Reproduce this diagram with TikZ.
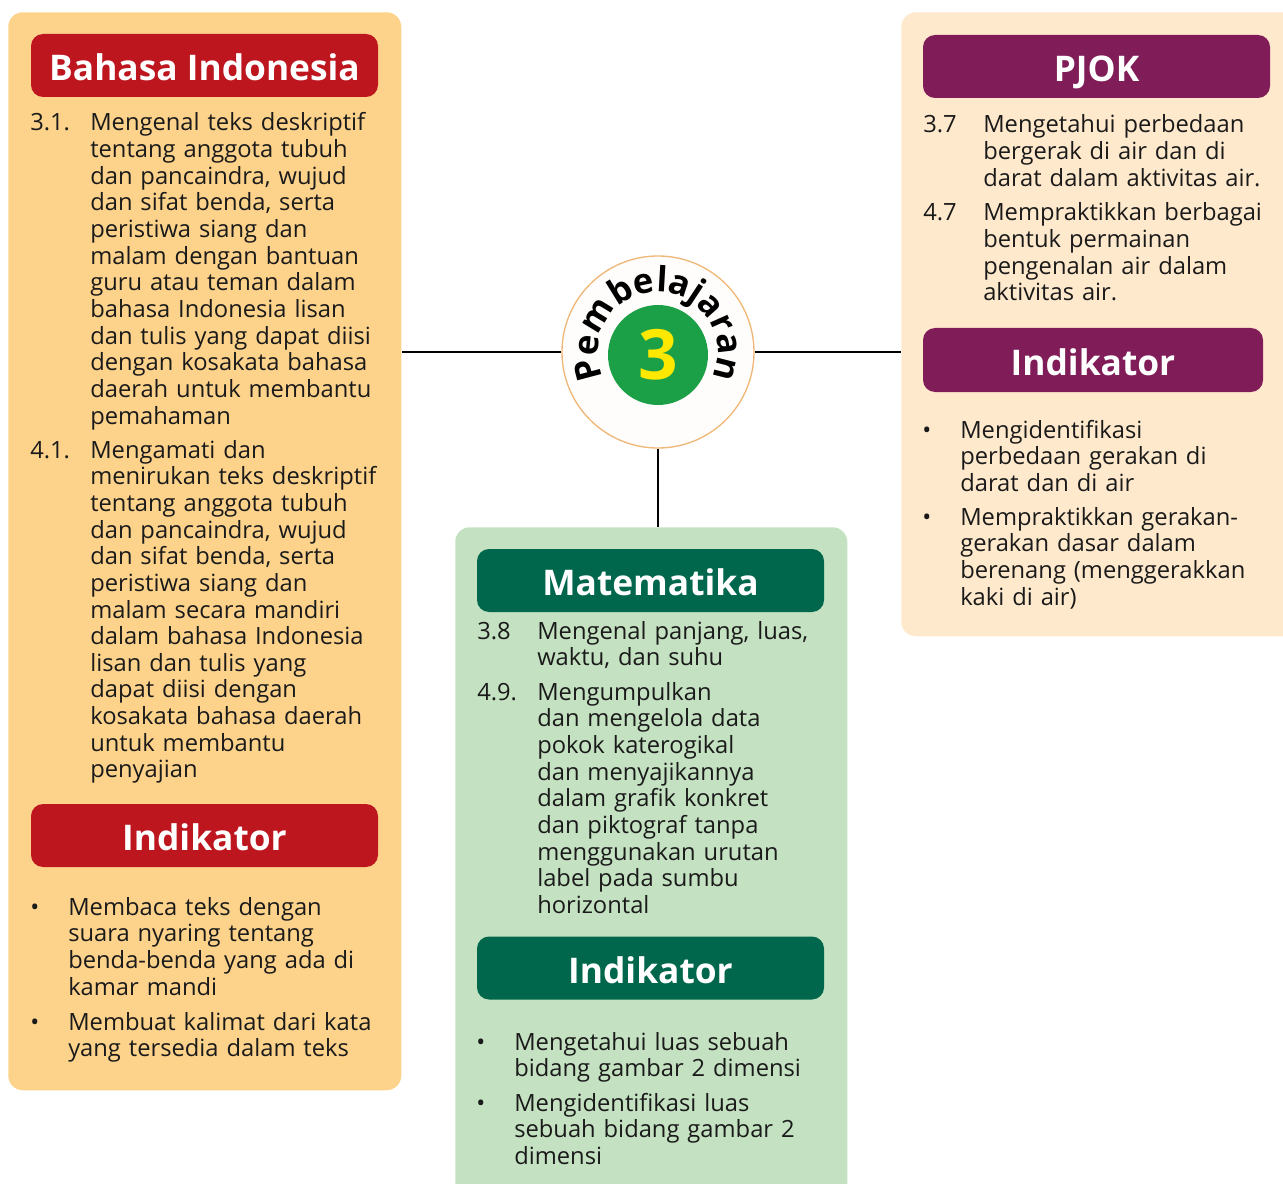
\documentclass[tikz,border=0pt]{standalone}
\usepackage{fontspec}
\setmainfont{Open Sans}
\usetikzlibrary{positioning, decorations.text}
\definecolor{biorange}{HTML}{FDD38C}
\definecolor{pjpeach}{HTML}{FFE9CC}
\definecolor{mtmint}{HTML}{C4E2C1}
\definecolor{bired}{HTML}{BD161F}
\definecolor{pjplum}{HTML}{801D58}
\definecolor{mtgreen}{HTML}{00674D}
\definecolor{hubgreen}{HTML}{1BA048}
\definecolor{hubyellow}{HTML}{FFE800}
\definecolor{hubrim}{HTML}{F0B878}
\definecolor{ink}{HTML}{1A1A1A}
\newcommand{\bodysize}{\fontsize{17.8}{20}\selectfont}
\newcommand{\barsize}{\fontsize{26.5}{30}\selectfont\bfseries}

\begin{document}
\begin{tikzpicture}[x=0.75pt, y=-0.75pt,
  panel/.style={rectangle, rounded corners=11pt, anchor=north west, inner sep=0pt},
  bar/.style={rectangle, rounded corners=9pt, minimum width=260.25pt, minimum height=47.25pt,
              inner sep=0pt, text height=23pt, text depth=0pt, text=white, font=\barsize},
  item/.style={anchor=base west, text width=300pt, align=left, inner sep=0pt, font=\bodysize, text=ink},
  num/.style={anchor=base west, inner sep=0pt, font=\bodysize, text=ink},
  link/.style={line width=1.5pt, draw=black}
]
  \path[use as bounding box, fill=white] (0,0) rectangle (1283,1184);
  \clip (0,0) rectangle (1283,1184);

  % panels
  \node[panel, fill=biorange, minimum width=294.75pt, minimum height=808.5pt] (bipanel) at (8,12) {};
  \node[panel, fill=pjpeach, minimum width=300pt, minimum height=468pt] (pjpanel) at (901,12) {};
  \node[panel, fill=mtmint, minimum width=294pt, minimum height=510pt] (mtpanel) at (455,527) {};

  % hub
  \node[circle, minimum size=144pt, fill=white!97!hubrim, draw=hubrim, line width=1pt] (hub) at (658,352) {};
  \node[circle, minimum size=75pt, inner sep=0pt, fill=hubgreen, text=hubyellow,
        font=\fontsize{52}{52}\selectfont\bfseries] (hubnum) at (658,355) {3};
  \path[decorate, decoration={text along path, text align=center,
        text={|\fontsize{26}{26}\selectfont\bfseries|Pembelajaran}}]
    (658,352) ++(150:60) arc[start angle=150, end angle=390, radius=60];

  \draw[link] (hub.west) -- (hub.west -| bipanel.east);
  \draw[link] (hub.east) -- (hub.east -| pjpanel.west);
  \draw[link] (hub.south) -- (hub.south |- mtpanel.north);

  % Bahasa Indonesia
  \node[bar, fill=bired] (bititle) at (204.5,65.5) {Bahasa Indonesia};
  \node[num] (bin31) at (30,131) {3.1.};
  \node[item] (bit31) at (90,131) {Mengenal teks deskriptif\\ tentang anggota tubuh\\ dan pancaindra, wujud\\
    dan sifat benda, serta\\ peristiwa siang dan\\ malam dengan bantuan\\ guru atau teman dalam\\
    bahasa Indonesia lisan\\ dan tulis yang dapat diisi\\ dengan kosakata bahasa\\ daerah untuk membantu\\ pemahaman};
  \node[num] (bin41) at (30,458) {4.1.};
  \node[item] (bit41) at (90,458) {Mengamati dan\\ menirukan teks deskriptif\\ tentang anggota tubuh\\
    dan pancaindra, wujud\\ dan sifat benda, serta\\ peristiwa siang dan\\ malam secara mandiri\\
    dalam bahasa Indonesia\\ lisan dan tulis yang\\ dapat diisi dengan\\ kosakata bahasa daerah\\
    untuk membantu\\ penyajian};
  \node[bar, fill=bired] (biind) at (204.5,835.5) {Indikator};
  \node[num] (bib1) at (30,915) {\textbullet};
  \node[item] (bii1) at (68,915) {Membaca teks dengan\\ suara nyaring tentang\\ benda-benda yang ada di\\ kamar mandi};
  \node[num] (bib2) at (30,1030) {\textbullet};
  \node[item] (bii2) at (68,1030) {Membuat kalimat dari kata\\ yang tersedia dalam teks};

  % PJOK
  \node[bar, fill=pjplum] (pjtitle) at (1096.5,66.5) {PJOK};
  \node[num] (pjn37) at (923,133) {3.7};
  \node[item] (pjt37) at (983,133) {Mengetahui perbedaan\\ bergerak di air dan di\\ darat dalam aktivitas air.};
  \node[num] (pjn47) at (923,221) {4.7};
  \node[item] (pjt47) at (983,221) {Mempraktikkan berbagai\\ bentuk permainan\\ pengenalan air dalam\\ aktivitas air.};
  \node[bar, fill=pjplum, minimum width=255pt, minimum height=48pt] (pjind) at (1093,360) {Indikator};
  \node[num] (pjb1) at (922,438) {\textbullet};
  \node[item] (pji1) at (960,438) {Mengidentifikasi\\ perbedaan gerakan di\\ darat dan di air};
  \node[num] (pjb2) at (922,525) {\textbullet};
  \node[item] (pji2) at (960,525) {Mempraktikkan gerakan-\\ gerakan dasar dalam\\ berenang (menggerakkan\\ kaki di air)};

  % Matematika
  \node[bar, fill=mtgreen] (mttitle) at (650.5,580.5) {Matematika};
  \node[num] (mtn38) at (477,639) {3.8};
  \node[item] (mtt38) at (537,639) {Mengenal panjang, luas,\\ waktu, dan suhu};
  \node[num] (mtn49) at (477,700) {4.9.};
  \node[item] (mtt49) at (537,700) {Mengumpulkan\\ dan mengelola data\\ pokok katerogikal\\ dan menyajikannya\\
    dalam grafik konkret\\ dan piktograf tanpa\\ menggunakan urutan\\ label pada sumbu\\ horizontal};
  \node[bar, fill=mtgreen] (mtind) at (650.5,968) {Indikator};
  \node[num] (mtb1) at (476,1050) {\textbullet};
  \node[item] (mti1) at (514,1050) {Mengetahui luas sebuah\\ bidang gambar 2 dimensi};
  \node[num] (mtb2) at (476,1111) {\textbullet};
  \node[item] (mti2) at (514,1111) {Mengidentifikasi luas\\ sebuah bidang gambar 2\\ dimensi};
\end{tikzpicture}
\end{document}
